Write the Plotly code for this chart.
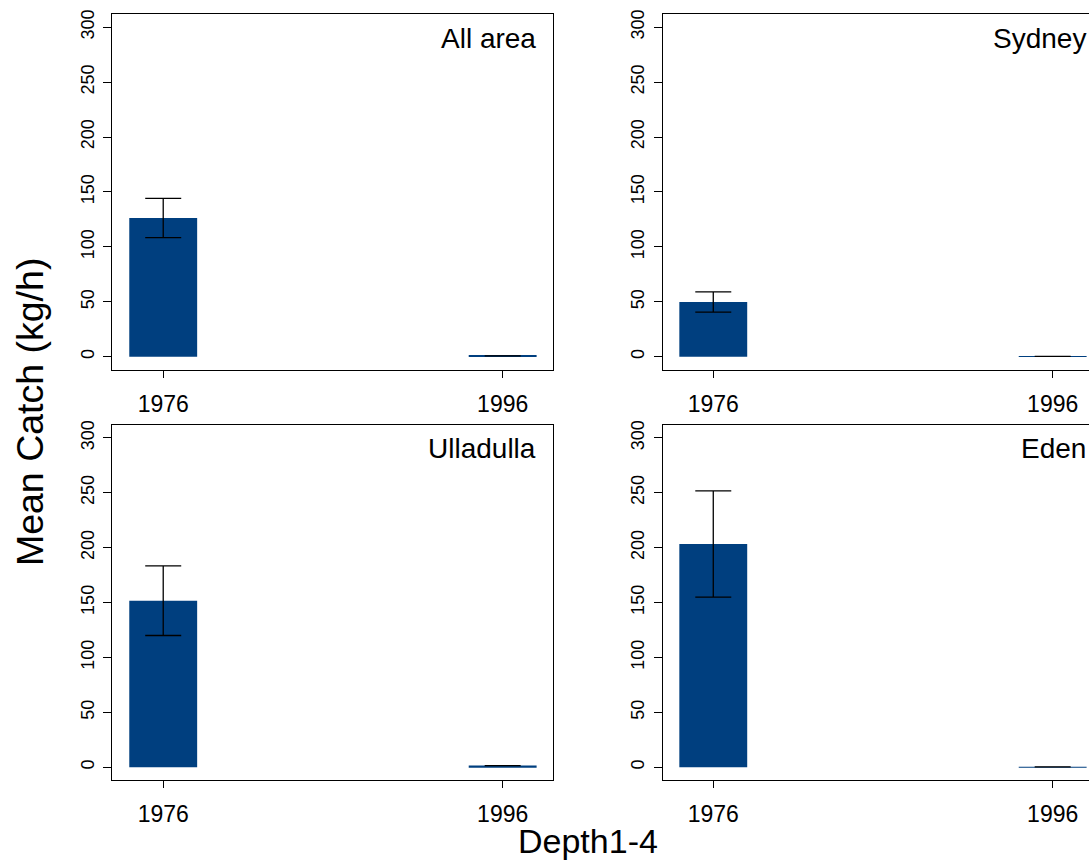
import plotly.graph_objects as go

# ---- data ----
years = ["1976", "1996"]
year_pos = [0, 1]
areas = ["All area", "Sydney", "Ulladulla", "Eden"]
mean_all = [126.3, 0.8]
se_all = [17.8, 0.0]
mean_sydney = [49.9, 0.3]
se_sydney = [9.2, 0.0]
mean_ulladulla = [151.7, 1.5]
se_ulladulla = [31.7, 0.0]
mean_eden = [203.4, 0.3]
se_eden = [48.4, 0.0]
y_ticks = [0, 50, 100, 150, 200, 250, 300]

means = [mean_all, mean_sydney, mean_ulladulla, mean_eden]
ses = [se_all, se_sydney, se_ulladulla, se_eden]

W, H = 1089, 861
FONT = "Liberation Sans, Arial, sans-serif"
BAR = "#003f7f"

# domains (paper fractions)
xdom_left = [112.3 / W, 552.7 / W]
xdom_right = [662.7 / W, 1.0]
ydom_top = [(H - 367.7) / H, (H - 10) / H]
ydom_bot = [(H - 780) / H, (H - 422.7) / H]

panels = [
    (xdom_left, ydom_top, [-0.150, 1.1474], True),
    (xdom_right, ydom_top, [-0.149, 1.107], False),
    (xdom_left, ydom_bot, [-0.150, 1.1474], True),
    (xdom_right, ydom_bot, [-0.149, 1.107], False),
]

fig = go.Figure()
layout = dict(
    width=W, height=H,
    margin=dict(l=0, r=0, t=0, b=0),
    paper_bgcolor="white", plot_bgcolor="white",
    showlegend=False,
    font=dict(family=FONT, color="black"),
)
annotations = []
for i, (xd, yd, xr, mirror_y) in enumerate(panels):
    n = i + 1
    xa = "x" if n == 1 else f"x{n}"
    ya = "y" if n == 1 else f"y{n}"
    fig.add_trace(go.Bar(
        x=year_pos, y=means[i], width=0.2,
        marker=dict(color=BAR, line=dict(width=0)),
        error_y=dict(type="data", array=ses[i], visible=True,
                     color="black", thickness=1.3, width=18),
        xaxis=xa, yaxis=ya,
    ))
    xkey = "xaxis" if n == 1 else f"xaxis{n}"
    ykey = "yaxis" if n == 1 else f"yaxis{n}"
    layout[xkey] = dict(
        domain=xd, anchor=ya, range=xr,
        tickmode="array", tickvals=year_pos, ticktext=years,
        ticks="outside", ticklen=7, tickcolor="black", tickwidth=1,
        showline=True, linecolor="black", linewidth=1.2, mirror=True,
        showgrid=False, zeroline=False,
        tickfont=dict(size=23, family=FONT, color="black"),
        ticklabelstandoff=6,
        fixedrange=True,
    )
    layout[ykey] = dict(
        domain=yd, anchor=xa, range=[-12, 312],
        tickmode="array", tickvals=y_ticks,
        ticks="outside", ticklen=8, tickcolor="black", tickwidth=1,
        showline=True, linecolor="black", linewidth=1.2, mirror=mirror_y,
        showgrid=False, zeroline=False, tickangle=-90,
        tickfont=dict(size=18, family=FONT, color="black"),
        ticklabelstandoff=2,
        fixedrange=True,
    )
    annotations.append(dict(
        text=areas[i], x=1.105, y=290, xref=xa, yref=ya,
        xanchor="right", yanchor="middle", showarrow=False,
        font=dict(size=28, family=FONT, color="black"),
    ))

annotations.append(dict(
    text="Mean Catch (kg/h)", x=30 / W, y=(H - 410) / H,
    xref="paper", yref="paper", xanchor="center", yanchor="middle",
    textangle=-90, showarrow=False,
    font=dict(size=37.5, family=FONT, color="black"),
))
annotations.append(dict(
    text="Depth1-4", x=588 / W, y=(H - 841) / H,
    xref="paper", yref="paper", xanchor="center", yanchor="middle",
    showarrow=False,
    font=dict(size=34, family=FONT, color="black"),
))
layout["annotations"] = annotations
fig.update_layout(**layout)
fig.write_html(
    "out.html",
    config={"displayModeBar": False},
    post_script="document.body.style.margin='0';document.body.style.overflow='hidden';",
)
